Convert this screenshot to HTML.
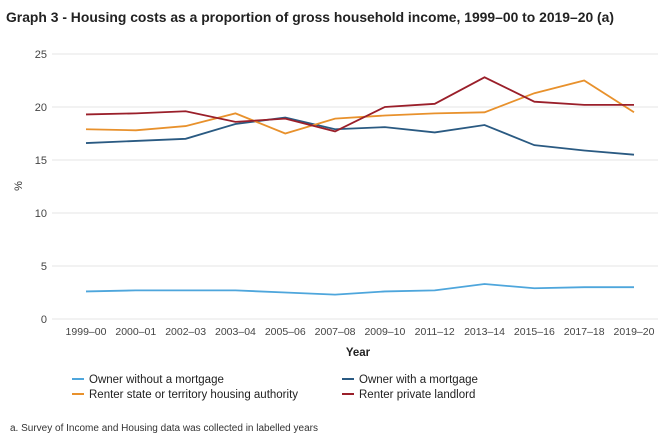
<!DOCTYPE html>
<html><head><meta charset="utf-8"><style>
body{margin:0;background:#fff;font-family:"Liberation Sans",sans-serif;}
svg text{font-family:"Liberation Sans",sans-serif;}
</style></head><body>
<svg width="660" height="437">
<text x="6" y="22" font-size="13.5" font-weight="bold" fill="#222" textLength="608" lengthAdjust="spacingAndGlyphs">Graph 3 - Housing costs as a proportion of gross household income, 1999–00 to 2019–20 (a)</text>
<g id="grid"></g><g id="lines"></g><g id="xt"></g>
<text x="22" y="186" font-size="11" fill="#333" transform="rotate(-90 22 186)" text-anchor="middle">%</text>
<text x="358" y="356" font-size="11.5" font-weight="bold" fill="#222" text-anchor="middle">Year</text>
<g id="legend"></g>
<text x="10" y="431" font-size="10" fill="#333">a. Survey of Income and Housing data was collected in labelled years</text>
</svg>
<script>
const categories=["1999–00","2000–01","2002–03","2003–04","2005–06","2007–08","2009–10","2011–12","2013–14","2015–16","2017–18","2019–20"];
const ownerNoMortgage=[2.6,2.7,2.7,2.7,2.5,2.3,2.6,2.7,3.3,2.9,3.0,3.0];
const ownerMortgage=[16.6,16.8,17.0,18.4,19.0,17.9,18.1,17.6,18.3,16.4,15.9,15.5];
const renterState=[17.9,17.8,18.2,19.4,17.5,18.9,19.2,19.4,19.5,21.3,22.5,19.5];
const renterPrivate=[19.3,19.4,19.6,18.6,18.9,17.7,20.0,20.3,22.8,20.5,20.2,20.2];
const yTicks=[0,5,10,15,20,25];
const ns="http://www.w3.org/2000/svg";
const x=i=>86+i*(634-86)/(categories.length-1);
const y=v=>319-v*10.6;
function mk(t,a,p){const e=document.createElementNS(ns,t);for(const k in a)e.setAttribute(k,a[k]);p.appendChild(e);return e;}
const grid=document.getElementById('grid');
yTicks.forEach(t=>{
 const l=mk('line',{x1:52,x2:658,y1:y(t),y2:y(t),stroke:'#e6e6e6','stroke-width':1},grid);
 
 
 const tx=mk('text',{x:47,y:y(t)+4,'font-size':11,fill:'#444','text-anchor':'end'},grid);tx.textContent=t;
 
 
});
const xt=document.getElementById('xt');
categories.forEach((c,i)=>{
 const tx=mk('text',{x:x(i),y:335,'font-size':10.5,fill:'#444','text-anchor':'middle'},xt);tx.textContent=c;
 
 
});
const series=[["owner-without-mortgage",ownerNoMortgage,"#4ea6dc","Owner without a mortgage",72,383],
["owner-with-mortgage",ownerMortgage,"#2a5a82","Owner with a mortgage",342,383],
["renter-state-authority",renterState,"#e8912c","Renter state or territory housing authority",72,398],
["renter-private-landlord",renterPrivate,"#9a1f2a","Renter private landlord",342,398]];
const lg=document.getElementById('lines'),leg=document.getElementById('legend');
series.forEach(s=>{
 const p=mk('polyline',{points:s[1].map((v,i)=>x(i)+','+y(v)).join(' '),fill:'none',stroke:s[2],'stroke-width':1.8},lg);
 
 
 const g=mk('g',{},leg);
 
 
 mk('line',{x1:s[4],x2:s[4]+12,y1:s[5]-4,y2:s[5]-4,stroke:s[2],'stroke-width':2},g);
 const t=mk('text',{x:s[4]+17,y:s[5],'font-size':11.5,fill:'#222'},g);t.textContent=s[3];
});
</script>
</body></html>
